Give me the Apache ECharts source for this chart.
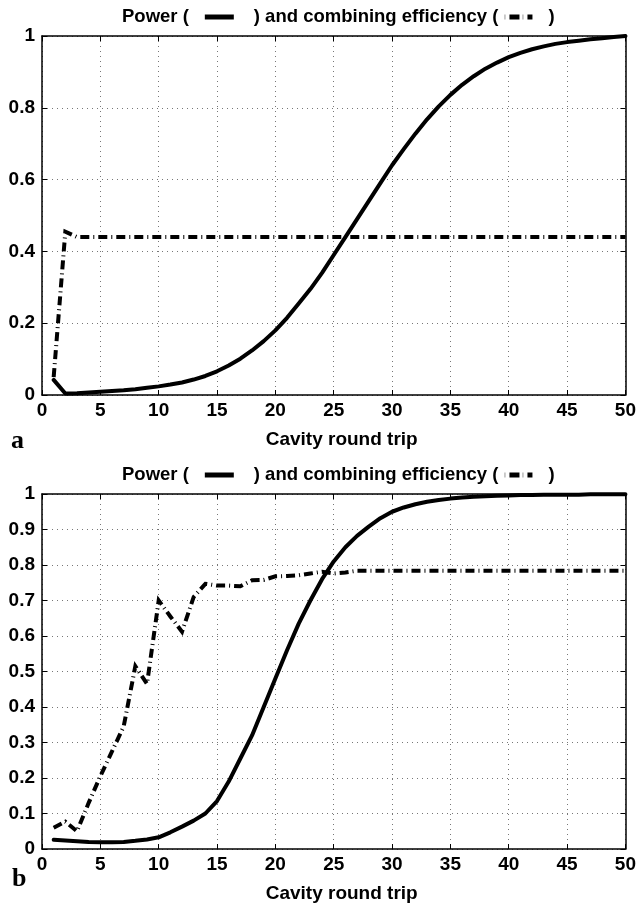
<!DOCTYPE html>
<html>
<head>
<meta charset="utf-8">
<script src="https://cdn.jsdelivr.net/npm/echarts@6/dist/echarts.min.js"></script>
<style>
  html, body { margin: 0; padding: 0; background: #fff; }
  #chart { width: 639px; height: 906px; }
</style>
</head>
<body>
<div id="chart"></div>
<script>
// Cavity round trip index (x) shared by both panels
const rounds = [1, 2, 3, 4, 5, 6, 7, 8, 9, 10,
  11, 12, 13, 14, 15, 16, 17, 18, 19, 20,
  21, 22, 23, 24, 25, 26, 27, 28, 29, 30,
  31, 32, 33, 34, 35, 36, 37, 38, 39, 40,
  41, 42, 43, 44, 45, 46, 47, 48, 49, 50];

// Panel a: normalised power and combining efficiency
const powerA = [0.042, 0.004, 0.005, 0.007, 0.009, 0.011, 0.013, 0.016, 0.020, 0.024,
  0.029, 0.035, 0.043, 0.053, 0.066, 0.082, 0.101, 0.124, 0.150, 0.180,
  0.215, 0.255, 0.295, 0.340, 0.390, 0.440, 0.490, 0.540, 0.590, 0.640,
  0.685, 0.728, 0.768, 0.804, 0.836, 0.864, 0.888, 0.909, 0.926, 0.941,
  0.953, 0.963, 0.971, 0.978, 0.983, 0.987, 0.991, 0.994, 0.997, 1.000];
const efficiencyA = [0.050, 0.455, 0.440, 0.440, 0.440, 0.440, 0.440, 0.440, 0.440, 0.440,
  0.440, 0.440, 0.440, 0.440, 0.440, 0.440, 0.440, 0.440, 0.440, 0.440,
  0.440, 0.440, 0.440, 0.440, 0.440, 0.440, 0.440, 0.440, 0.440, 0.440,
  0.440, 0.440, 0.440, 0.440, 0.440, 0.440, 0.440, 0.440, 0.440, 0.440,
  0.440, 0.440, 0.440, 0.440, 0.440, 0.440, 0.440, 0.440, 0.440, 0.440];

// Panel b: normalised power and combining efficiency
const powerB = [0.026, 0.024, 0.022, 0.020, 0.019, 0.019, 0.020, 0.023, 0.027, 0.033,
  0.047, 0.063, 0.080, 0.100, 0.135, 0.190, 0.255, 0.320, 0.400, 0.480,
  0.560, 0.635, 0.700, 0.760, 0.810, 0.850, 0.882, 0.908, 0.932, 0.950,
  0.962, 0.971, 0.978, 0.983, 0.987, 0.990, 0.992, 0.994, 0.995, 0.996,
  0.997, 0.997, 0.998, 0.998, 0.998, 0.998, 0.999, 0.999, 0.999, 0.999];
const efficiencyB = [0.060, 0.077, 0.050, 0.130, 0.205, 0.275, 0.345, 0.515, 0.465, 0.700,
  0.655, 0.612, 0.710, 0.747, 0.742, 0.742, 0.740, 0.757, 0.758, 0.768,
  0.769, 0.771, 0.776, 0.781, 0.776, 0.779, 0.784, 0.784, 0.784, 0.784,
  0.784, 0.784, 0.784, 0.784, 0.784, 0.784, 0.784, 0.784, 0.784, 0.784,
  0.784, 0.784, 0.784, 0.784, 0.784, 0.784, 0.784, 0.784, 0.784, 0.784];

// Axis tick settings
const xTickStep = 5;
const yTickStepA = 0.2;
const yTickStepB = 0.1;

const FONT = 'Liberation Sans, Arial, Helvetica, sans-serif';

// Tick numbers use a narrow face when one is installed, plain sans otherwise
function hasFont(name) {
  const ctx = document.createElement('canvas').getContext('2d');
  const probe = '0.123456789 Cavity';
  ctx.font = 'bold 40px monospace';
  const base = ctx.measureText(probe).width;
  ctx.font = 'bold 40px "' + name + '", monospace';
  return Math.abs(ctx.measureText(probe).width - base) > 0.5;
}
const narrow = hasFont('Liberation Sans Narrow');
const tickFont = narrow
  ? { fontFamily: '"Liberation Sans Narrow", ' + FONT, fontSize: 21 }
  : { fontFamily: FONT, fontSize: 19 };

const pairs = (ys) => rounds.map((x, i) => [x, ys[i]]);

const chart = echarts.init(document.getElementById('chart'), null, { renderer: 'canvas' });

const labelStyle = Object.assign({ fontWeight: 'bold', color: '#000' }, tickFont);
const nameStyle = { fontFamily: FONT, fontWeight: 'bold', fontSize: 19, color: '#000' };
const gridLine = { show: true, lineStyle: { color: '#777', width: 1, type: [1, 4] } };
const frameLine = { show: true, onZero: false, lineStyle: { color: '#000', width: 1.5 } };
const innerTick = { show: true, inside: true, length: 5, lineStyle: { color: '#000', width: 1 } };

function xAxes(gridIndex) {
  return [
    {
      gridIndex, type: 'value', position: 'bottom', min: 0, max: 50, interval: xTickStep,
      axisLine: frameLine, axisTick: innerTick, splitLine: gridLine,
      axisLabel: Object.assign({ margin: 6 }, labelStyle),
      name: 'Cavity round trip', nameLocation: 'middle', nameGap: 35,
      nameTextStyle: Object.assign({ padding: [0, 0, 0, 16] }, nameStyle)
    },
    {
      gridIndex, type: 'value', position: 'top', min: 0, max: 50, interval: xTickStep,
      axisLine: frameLine, axisTick: innerTick, splitLine: { show: false },
      axisLabel: { show: false }
    }
  ];
}

function yAxes(gridIndex, step) {
  return [
    {
      gridIndex, type: 'value', position: 'left', min: 0, max: 1, interval: step,
      axisLine: frameLine, axisTick: innerTick, splitLine: gridLine,
      axisLabel: Object.assign({ margin: 7 }, labelStyle)
    },
    {
      gridIndex, type: 'value', position: 'right', min: 0, max: 1, interval: step,
      axisLine: frameLine, axisTick: innerTick, splitLine: { show: false },
      axisLabel: { show: false }
    }
  ];
}

// Heading with inline line-style samples
const headingRich = {
  t: { fontFamily: FONT, fontWeight: 'bold', fontSize: 18.5, color: '#000', lineHeight: 22 },
  sp16: { width: 16, height: 4 },
  sp20: { width: 20, height: 4 },
  sp6: { width: 6, height: 4 },
  g4: { width: 4, height: 4 },
  g3: { width: 3, height: 4 },
  solid: { width: 29, height: 5, backgroundColor: '#000', verticalAlign: 'middle' },
  tick: { width: 1, height: 5, backgroundColor: '#999', verticalAlign: 'middle' },
  dash: { width: 10, height: 5, backgroundColor: '#000', verticalAlign: 'middle' },
  dot: { width: 5, height: 5, backgroundColor: '#000', verticalAlign: 'middle' }
};
const headingText = '{t|Power (}{sp16|}{solid|}{sp20|}{t|) and combining efficiency (}' +
  '{sp6|}{tick|}{g4|}{dash|}{g3|}{tick|}{g4|}{dot|}{sp16|}{t|)}';

function heading(top) {
  return { text: headingText, left: 122, top, padding: 0, textStyle: { rich: headingRich } };
}
function panelTag(text, left, top) {
  return {
    text, left, top, padding: 0,
    textStyle: { fontFamily: 'Liberation Serif, Times New Roman, serif', fontWeight: 'bold', fontSize: 26, color: '#000' }
  };
}

const powerStyle = { color: '#000', width: 4, type: 'solid', cap: 'round', join: 'round' };
const effStyle = { color: '#000', width: 4, type: [9, 4, 1, 4], cap: 'butt', join: 'miter' };

function line(name, data, xIdx, yIdx, style, z) {
  return {
    name, type: 'line', data, xAxisIndex: xIdx, yAxisIndex: yIdx,
    showSymbol: false, symbol: 'none', lineStyle: style, z, silent: true
  };
}

chart.setOption({
  animation: false,
  backgroundColor: '#fff',
  title: [
    heading(6),
    heading(464),
    panelTag('a', 11, 428),
    panelTag('b', 12, 866)
  ],
  grid: [
    { left: 42, right: 11, top: 36, height: 359, containLabel: false },
    { left: 42, right: 11, top: 494, height: 355, containLabel: false }
  ],
  xAxis: [...xAxes(0), ...xAxes(1)],
  yAxis: [...yAxes(0, yTickStepA), ...yAxes(1, yTickStepB)],
  series: [
    line('Efficiency a', pairs(efficiencyA), 0, 0, effStyle, 3),
    line('Power a', pairs(powerA), 0, 0, powerStyle, 4),
    line('Efficiency b', pairs(efficiencyB), 2, 2, effStyle, 3),
    line('Power b', pairs(powerB), 2, 2, powerStyle, 4)
  ]
});
</script>
</body>
</html>
